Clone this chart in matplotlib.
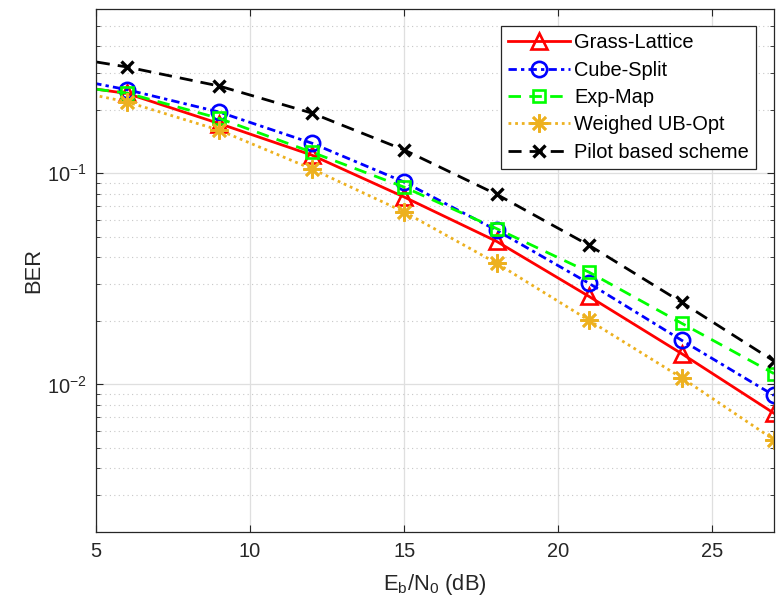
import numpy as np
import matplotlib
matplotlib.use('Agg')
import matplotlib.pyplot as plt
from matplotlib.ticker import LogLocator, NullFormatter

plt.rcParams['font.family'] = ['Liberation Sans', 'DejaVu Sans']
plt.rcParams['mathtext.fontset'] = 'custom'
plt.rcParams['mathtext.rm'] = 'Liberation Sans'
plt.rcParams['mathtext.it'] = 'Liberation Sans'

# Eb/N0 in dB (first point lies left of the visible range)
snr = [3, 6, 9, 12, 15, 18, 21, 24, 27]

grass_lattice = [0.275, 0.239, 0.172, 0.122, 0.0772, 0.0476, 0.0261, 0.0140, 0.0073]
cube_split = [0.303, 0.249, 0.195, 0.139, 0.0909, 0.0537, 0.0301, 0.0162, 0.00887]
exp_map = [0.272, 0.240, 0.182, 0.126, 0.0860, 0.0547, 0.0340, 0.0195, 0.01125]
weighed_ub = [0.268, 0.218, 0.160, 0.105, 0.0656, 0.0375, 0.0201, 0.01076, 0.00547]
pilot = [0.376, 0.319, 0.259, 0.193, 0.129, 0.0795, 0.0456, 0.0245, 0.0129]

labels = ['Grass-Lattice', 'Cube-Split', 'Exp-Map', 'Weighed UB-Opt', 'Pilot based scheme']

fig = plt.figure(figsize=(7.76, 6.14), dpi=100)
ax = fig.add_axes([0.1237, 0.1336, 0.8737, 0.8517])

orange = (0.929, 0.694, 0.125)
lw = 2.0
ax.semilogy(snr, grass_lattice, ls='-', color='r', lw=lw, marker='^', ms=11,
            mfc='none', mew=1.9, label=labels[0])
ax.semilogy(snr, cube_split, ls=(0, (3, 1.5, 1.2, 1.5)), color='b', lw=lw, marker='o', ms=11,
            mfc='none', mew=1.9, label=labels[1])
ax.semilogy(snr, exp_map, ls=(0, (4.5, 3)), color=(0, 1, 0), lw=lw, marker='s', ms=9,
            mfc='none', mew=1.9, label=labels[2])
ax.semilogy(snr, weighed_ub, ls=(0, (1, 1.4)), color=orange, lw=lw, marker=(8, 2, 0), ms=13,
            mew=1.9, label=labels[3])
ax.semilogy(snr, pilot, ls=(0, (4.7, 2.9)), color='k', lw=lw, marker='x', ms=9,
            mew=2.4, label=labels[4])

ax.set_xlim(5, 27)
ax.set_ylim(2e-3, 0.6)
ax.set_xticks([5, 10, 15, 20, 25])
ax.yaxis.set_major_locator(LogLocator(base=10, numticks=10))
ax.yaxis.set_minor_locator(LogLocator(base=10, subs=np.arange(2, 10), numticks=20))
ax.yaxis.set_minor_formatter(NullFormatter())

ax.grid(True, which='major', color='#dfdfdf', lw=0.9, ls='-')
ax.grid(True, which='minor', axis='y', color='#c8c8c8', lw=0.8, ls=(0, (1, 3)))
ax.set_axisbelow(True)

ax.tick_params(which='both', direction='in', top=True, right=True,
               labelsize=14.4, colors='#262626', labelcolor='#262626')
ax.tick_params(which='major', length=5, pad=7)
ax.tick_params(which='minor', length=3)
for s in ax.spines.values():
    s.set_color('#262626')
    s.set_linewidth(0.9)

ax.set_xlabel(r'E$_\mathregular{b}$/N$_\mathregular{0}$ (dB)', fontsize=15.8,
              color='#262626', labelpad=8)
ax.set_ylabel('BER', fontsize=15.8, color='#262626', labelpad=2)

leg = ax.legend(loc='upper right', bbox_to_anchor=(0.973, 0.967), fontsize=14.4,
                fancybox=False, framealpha=1, edgecolor='#262626',
                borderpad=0.35, labelspacing=0.42, handlelength=3.1,
                handletextpad=0.2, borderaxespad=0)
leg.get_frame().set_linewidth(0.9)

fig.savefig('out.png', dpi=100)
